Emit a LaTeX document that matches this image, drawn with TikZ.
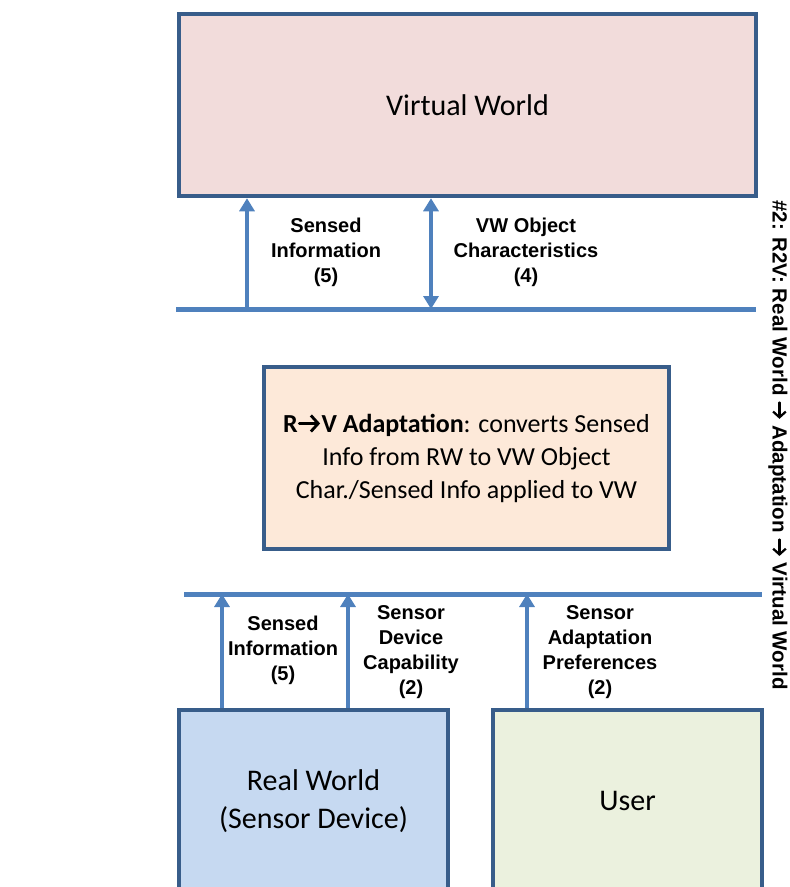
\documentclass[tikz,border=0pt]{standalone}
\usepackage{fontspec}
\setmainfont{Carlito}
\newfontfamily\lblfont{Liberation Sans}
\usetikzlibrary{arrows.meta}
\definecolor{boxline}{HTML}{385D8A}
\definecolor{flowblue}{HTML}{4F81BD}
\definecolor{vwfill}{HTML}{F2DCDB}
\definecolor{adfill}{HTML}{FDE9D9}
\definecolor{rwfill}{HTML}{C6D9F1}
\definecolor{userfill}{HTML}{EBF1DE}
% bold chevron arrow, drawn inline
\newcommand{\rarr}{\tikz[baseline=-0.33em]\draw[black, line width=0.11em, line cap=round,
	-{Straight Barb[length=0.28em,width=0.62em,line width=0.11em]}] (0,0) -- (0.8em,0);}
\tikzset{
	worldbox/.style = {
		rectangle,
		align=center,
		draw=boxline,
		line width=4.5pt,
		inner sep=0pt,
		font=\fontsize{30}{38}\selectfont
	},
	flowlabel/.style = {
		align=center,
		inner sep=0pt,
		font=\lblfont\bfseries\fontsize{20}{25}\selectfont
	},
	bus/.style = {
		draw=flowblue,
		line width=5pt
	},
	flow/.style = {
		draw=flowblue,
		line width=4pt
	}
}

\begin{document}
\begin{tikzpicture}[x=1pt,y=-1pt,>={Triangle[length=13pt,width=15pt]}]
\useasboundingbox (0,0) rectangle (790,887);
% boxes
\node [worldbox, fill=vwfill, minimum width=577pt, minimum height=182pt] (vw) at (467.5,105) {Virtual World};
\node [worldbox, fill=adfill, minimum width=405pt, minimum height=182pt,
	font=\fontsize{26}{33}\selectfont] (adapt) at (466.5,458)
	{\textbf{R\rarr V Adaptation}: converts Sensed\\Info from RW to VW Object\\Char./Sensed Info applied to VW};
\node [worldbox, fill=rwfill, minimum width=269pt, minimum height=182pt] (rw) at (313.5,801) {Real World\\(Sensor Device)};
\node [worldbox, fill=userfill, minimum width=269pt, minimum height=182pt] (user) at (627.5,801) {User};
% buses
\coordinate (upL) at (176,309);
\coordinate (upR) at (756,309);
\coordinate (loL) at (184,594);
\coordinate (loR) at (762,594);
\draw [bus] (upL) -- (upR);
\draw [bus] (loL) -- (loR);
% upper flows
\coordinate (sensedup) at (247,309);
\coordinate (vwchar) at (431,309);
\draw [flow,->] (sensedup) -- (sensedup |- vw.south);
\draw [flow,<->] (vwchar) -- (vwchar |- vw.south);
\node [flowlabel] (lsensedup) at (326,252) {Sensed\\Information\\(5)};
\node [flowlabel] (lvwchar) at (526,252) {VW Object\\Characteristics\\(4)};
% lower flows
\coordinate (senseddown) at (222,594);
\coordinate (sensorcap) at (348,594);
\coordinate (sensorpref) at (527,594);
\draw [flow,->] (senseddown |- rw.north) -- (senseddown);
\draw [flow,->] (sensorcap |- rw.north) -- (sensorcap);
\draw [flow,->] (sensorpref |- user.north) -- (sensorpref);
\node [flowlabel] (lsenseddown) at (283,650) {Sensed\\Information\\(5)};
\node [flowlabel] (lsensorcap) at (411,652) {Sensor\\Device\\Capability\\(2)};
\node [flowlabel] (lsensorpref) at (600,652) {Sensor\\Adaptation\\Preferences\\(2)};
% side title
\node [flowlabel, rotate=-90, font=\lblfont\bfseries\fontsize{20.5}{25}\selectfont] (title) at (778,445)
	{\#2: R2V: Real World \rarr\ Adaptation \rarr\ Virtual World};
\end{tikzpicture}
\end{document}
